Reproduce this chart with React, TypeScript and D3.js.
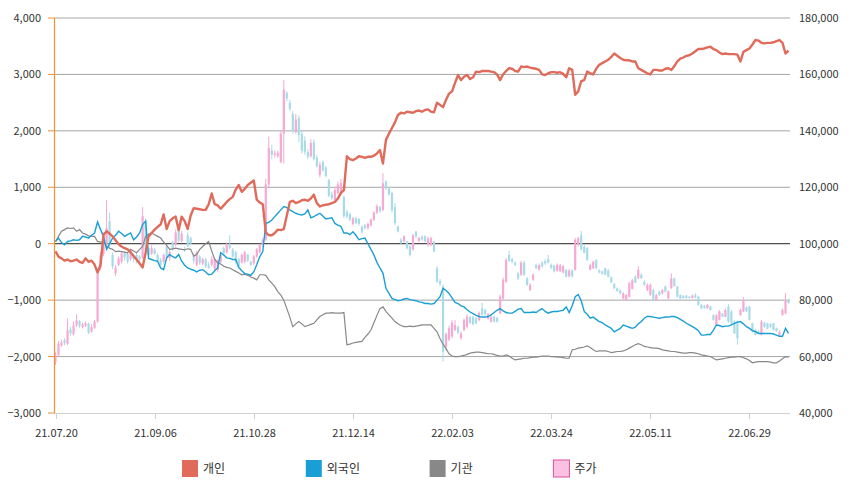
import React from 'react';
import * as d3 from 'd3';

// 순매수 누적 (left axis) and price candles (right axis), daily from 21.07.20
const tickLabels = ['21.07.20', '21.09.06', '21.10.28', '21.12.14', '22.02.03', '22.03.24', '22.05.11', '22.06.29'];
const TICK_EVERY = 33;

const leftTicks = [4000, 3000, 2000, 1000, 0, -1000, -2000, -3000];
const rightTicks = [180, 160, 140, 120, 100, 80, 60, 40];

const retail = [
  -135, -230, -260, -300, -280, -310, -300, -280, -320, -340,
  -260, -320, -300, -370, -510, -370, 160, 220, 180, 130,
  60, -10, -50, -80, -100, -150, -220, -280, -350, -420,
  -160, 130, 190, 250, 300, 340, 520, 260, 400, 450,
  480, 240, 480, 400, 260, 500, 630, 620, 610, 600,
  600, 700, 890, 700, 680, 620, 680, 740, 790, 830,
  960, 1040, 920, 970, 1040, 1080, 1120, 780, 730, 700,
  200, 150, 150, 190, 250, 240, 260, 500, 740, 760,
  720, 740, 770, 780, 760, 800, 870, 720, 660, 680,
  690, 700, 720, 740, 800, 900, 950, 1550, 1500, 1480,
  1510, 1550, 1540, 1520, 1540, 1540, 1560, 1600, 1660, 1420,
  1840, 1950, 2050, 2150, 2280, 2320, 2310, 2340, 2330, 2320,
  2350, 2360, 2340, 2370, 2380, 2340, 2330, 2500, 2460, 2420,
  2550, 2660, 2700, 2850, 2990, 2900, 2960, 2990, 2920, 2950,
  3050, 3040, 3060, 3060, 3060, 3050, 3040, 3000, 2900, 3000,
  3060, 3110, 3100, 3060, 3050, 3140, 3130, 3140, 3120, 3110,
  3100, 3080, 3000, 2990, 3020, 3040, 3040, 3030, 3040, 3010,
  2950, 3110, 3080, 2640, 2700, 2880, 2900, 3050, 3020, 3000,
  3100, 3170, 3200, 3230, 3260, 3310, 3370, 3330, 3290, 3260,
  3250, 3250, 3230, 3230, 3110, 3080, 3050, 3020, 3000, 3080,
  3080, 3070, 3070, 3100, 3110, 3080, 3150, 3230, 3280, 3300,
  3330, 3340, 3370, 3410, 3450, 3450, 3460, 3480, 3490, 3450,
  3430, 3390, 3360, 3370, 3360, 3360, 3360, 3350, 3230, 3400,
  3430, 3460, 3530, 3610, 3600, 3560, 3550, 3560, 3560, 3570,
  3590, 3610, 3560, 3370, 3420,
];

const foreign = [
  40, 100, 20, -20, 40, 50, 70, 60, 70, 130,
  120, 100, 150, 190, 385, 250, 130, -100, 0, 100,
  150, 220, 180, 130, 160, 190, 70, 120, 190, 340,
  400, -260, -280, -300, -310, -430, -460, -250, -190, -230,
  -250, -190, -310, -380, -430, -450, -470, -500, -470, -460,
  -500, -550, -540, -480, -430, -160, -200, -250, -260, -280,
  -280, -420, -480, -530, -540, -560, -500, -370, -230, -140,
  360, 380, 420, 480, 540, 600, 660, 640, 600, 570,
  540, 520, 510, 530, 600, 460, 480, 510, 540, 490,
  440, 450, 460, 360, 330, 310, 190, 190, 160, 210,
  150, 70, 90, 100, 0, -100, -200, -330, -430, -520,
  -790, -880, -970, -990, -1010, -1000, -980, -970, -990, -1000,
  -1010, -1030, -1040, -1060, -1060, -1070, -1060, -1000, -940, -790,
  -830, -880, -960, -1040, -1060, -1100, -1120, -1170, -1210, -1240,
  -1270, -1290, -1300, -1300, -1290, -1260, -1220, -1180, -1150, -1190,
  -1220, -1230, -1230, -1200, -1160, -1150, -1220, -1220, -1220, -1210,
  -1220, -1180, -1150, -1200, -1230, -1210, -1200, -1200, -1190, -1180,
  -1120, -1220, -1100, -940, -900, -1010, -1200, -1250, -1320, -1300,
  -1340, -1380, -1400, -1440, -1470, -1500, -1560, -1530, -1500, -1440,
  -1460, -1480, -1500, -1480, -1420, -1380, -1320, -1290, -1290, -1300,
  -1310, -1320, -1310, -1300, -1300, -1290, -1290, -1310, -1340, -1370,
  -1410, -1440, -1470, -1500, -1540, -1620, -1620, -1610, -1610, -1530,
  -1440, -1450, -1470, -1460, -1460, -1440, -1410, -1390, -1380, -1420,
  -1470, -1500, -1540, -1560, -1590, -1590, -1590, -1590, -1590, -1600,
  -1620, -1640, -1640, -1500, -1590,
];

const institution = [
  40, 130, 220, 250, 280, 270, 280, 220, 250, 190,
  170, 140, 130, 130, 40, 30, 40, -50, -80, -100,
  -140, -130, -140, -150, -160, -100, -130, -160, -100, -50,
  130, 170, 190, 160, 130, 100, 30, -30, -100, -90,
  -80, -90, -100, -110, -90, -100, -220, -190, -100, -50,
  0, 40, -130, -280, -340, -360, -400, -420, -430, -460,
  -490, -520, -550, -540, -560, -590, -610, -640, -550, -550,
  -560, -640, -700, -760, -850, -910, -1000, -1150, -1300, -1470,
  -1420, -1380, -1420, -1470, -1450, -1430, -1410, -1350, -1290, -1260,
  -1230, -1230, -1220, -1230, -1230, -1230, -1220, -1790, -1780, -1760,
  -1750, -1740, -1730, -1660, -1600, -1530, -1400, -1270, -1150, -1120,
  -1200, -1260, -1320, -1380, -1420, -1450, -1470, -1470, -1460, -1470,
  -1460, -1450, -1440, -1440, -1440, -1440, -1500, -1560, -1680, -1780,
  -1860, -1950, -1990, -2000, -2000, -1990, -1980, -1960, -1940, -1930,
  -1920, -1920, -1930, -1940, -1950, -1950, -1960, -1980, -1990, -1990,
  -1970, -1990, -2030, -2060, -2050, -2040, -2030, -2030, -2020, -2010,
  -2010, -2000, -1990, -1990, -1990, -2000, -2000, -2010, -2010, -2020,
  -2030, -2030, -1880, -1870, -1850, -1840, -1830, -1810, -1840, -1880,
  -1910, -1900, -1900, -1900, -1910, -1930, -1920, -1910, -1910, -1900,
  -1880, -1850, -1820, -1790, -1770, -1790, -1820, -1830, -1840, -1850,
  -1850, -1860, -1880, -1890, -1900, -1910, -1910, -1920, -1930, -1940,
  -1940, -1930, -1930, -1940, -1950, -1970, -1980, -1990, -2000, -2030,
  -2060, -2050, -2040, -2030, -2020, -2010, -2010, -2000, -2000, -2020,
  -2040, -2070, -2110, -2100, -2090, -2090, -2090, -2090, -2100, -2110,
  -2110, -2080, -2040, -2000, -2010,
];

// [open, close, high, low] in thousand won
const priceOHLC: [number, number, number, number][] = [
  [58.0, 60.5, 61.5, 57.0], [60.6, 64.5, 65.5, 60.0], [64.0, 65.0, 66.0, 63.5], [65.8, 64.8, 66.5, 64.0], [64.5, 69.3, 73.5, 64.0],
  [69.6, 68.2, 70.5, 67.5], [68.0, 71.0, 72.5, 67.5], [71.0, 72.8, 75.0, 70.5], [72.6, 71.0, 73.0, 70.2], [70.5, 71.4, 72.0, 70.0],
  [71.0, 71.8, 72.5, 70.5], [71.6, 68.5, 72.0, 68.0], [68.8, 70.4, 71.5, 68.5], [70.2, 72.4, 73.0, 69.8], [72.4, 89.5, 90.0, 72.0],
  [91.5, 96.0, 97.0, 90.5], [96.5, 100.5, 104.0, 95.5], [99.5, 105.5, 115.5, 99.0], [108.0, 99.3, 111.0, 98.5], [96.0, 92.0, 97.0, 91.0],
  [89.5, 91.5, 92.5, 88.5], [92.5, 94.8, 95.5, 92.0], [93.6, 96.5, 97.5, 93.0], [96.8, 95.2, 97.2, 94.0], [96.5, 93.6, 97.0, 93.0],
  [94.5, 97.0, 98.0, 94.0], [95.8, 94.5, 96.5, 93.5], [96.0, 94.2, 97.0, 93.0], [95.5, 94.5, 96.0, 93.5], [95.0, 109.8, 113.0, 94.5],
  [108.0, 97.5, 109.0, 96.5], [98.5, 96.0, 99.5, 95.5], [96.5, 98.4, 99.5, 96.0], [98.0, 96.5, 98.5, 96.0], [96.0, 94.0, 96.5, 93.5],
  [94.4, 92.5, 95.0, 92.0], [93.6, 96.0, 96.5, 93.0], [99.0, 95.0, 99.5, 94.5], [95.0, 97.0, 98.0, 94.0], [100.5, 98.0, 101.0, 97.5],
  [99.5, 104.0, 105.0, 99.0], [104.5, 101.0, 105.5, 100.5], [101.0, 103.5, 104.5, 100.5], [98.2, 98.0, 99.0, 97.0], [103.0, 99.3, 104.0, 98.8],
  [102.0, 100.0, 102.5, 99.5], [95.5, 94.0, 96.5, 93.0], [92.5, 97.0, 97.5, 92.0], [95.5, 93.2, 96.0, 92.5], [93.0, 94.5, 95.0, 92.5],
  [94.5, 92.0, 95.0, 91.5], [92.5, 91.5, 93.5, 91.0], [92.5, 94.5, 95.5, 92.0], [91.0, 94.5, 95.0, 90.5], [90.7, 94.0, 94.5, 90.0],
  [93.6, 96.0, 96.5, 93.0], [98.4, 96.6, 99.0, 96.0], [97.0, 99.6, 100.5, 96.5], [99.5, 98.5, 103.0, 98.0], [98.0, 95.5, 98.5, 95.0],
  [97.0, 93.6, 97.5, 93.0], [94.5, 92.0, 95.0, 91.5], [93.3, 96.0, 96.5, 93.0], [93.6, 97.0, 97.5, 93.0], [96.0, 94.0, 96.5, 93.5],
  [93.6, 92.5, 94.0, 92.0], [93.0, 95.5, 96.0, 92.5], [95.5, 98.0, 98.5, 95.0], [97.0, 99.6, 100.0, 96.5], [99.6, 101.4, 102.0, 99.0],
  [101.5, 121.0, 123.0, 101.0], [121.0, 134.0, 138.0, 120.0], [133.0, 131.5, 135.0, 130.0], [131.5, 132.0, 133.0, 130.5], [131.0, 132.2, 133.0, 130.5],
  [129.0, 139.0, 140.0, 128.5], [139.0, 154.5, 158.0, 128.5], [153.5, 151.5, 154.0, 150.5], [150.0, 147.8, 151.0, 147.0], [146.0, 140.0, 147.0, 139.0],
  [139.5, 144.0, 146.0, 139.0], [144.5, 138.5, 145.5, 136.0], [139.0, 133.0, 140.0, 132.0], [136.5, 132.6, 138.0, 131.5], [132.5, 130.8, 133.5, 130.0],
  [131.0, 135.7, 137.0, 130.5], [136.0, 130.0, 137.0, 129.5], [130.5, 127.5, 131.5, 127.0], [124.4, 128.0, 129.0, 123.5], [129.0, 126.0, 129.5, 125.5],
  [127.0, 124.0, 127.5, 123.5], [122.5, 117.0, 123.0, 116.5], [117.5, 116.2, 118.5, 115.5], [115.5, 119.0, 120.0, 115.0], [118.0, 121.0, 122.0, 117.5],
  [117.5, 121.5, 123.0, 117.0], [116.5, 109.8, 117.0, 109.0], [111.3, 109.6, 112.0, 109.0], [110.5, 108.5, 111.0, 108.0], [107.0, 109.0, 109.5, 106.5],
  [109.0, 107.3, 109.5, 107.0], [108.8, 107.0, 109.0, 106.5], [106.0, 104.3, 106.5, 103.5], [106.5, 105.5, 107.0, 105.0], [105.5, 107.0, 107.5, 105.0],
  [106.6, 108.5, 109.0, 106.0], [108.5, 111.0, 111.5, 108.0], [111.0, 113.3, 114.0, 110.5], [113.0, 111.5, 113.5, 111.0], [112.0, 121.4, 125.0, 111.5],
  [122.0, 119.6, 122.5, 119.0], [119.6, 117.5, 120.0, 117.0], [118.0, 112.0, 118.5, 111.0], [113.0, 107.3, 114.4, 106.5], [106.0, 104.3, 106.5, 104.0],
  [101.4, 100.2, 102.0, 99.8], [100.8, 102.6, 103.0, 100.5], [100.8, 98.4, 101.0, 98.0], [99.0, 96.0, 99.5, 95.5], [98.0, 103.0, 103.5, 97.5],
  [104.3, 102.6, 104.5, 102.0], [101.0, 102.0, 102.5, 100.5], [102.5, 101.5, 103.0, 101.0], [102.6, 100.8, 103.0, 100.5], [99.6, 101.8, 102.5, 99.0],
  [99.6, 102.0, 102.5, 99.0], [100.8, 97.2, 101.0, 97.0], [91.3, 86.6, 92.0, 86.0], [86.8, 85.8, 87.5, 85.0], [84.8, 61.7, 85.5, 58.2],
  [63.5, 68.0, 68.5, 62.0], [66.0, 70.0, 71.0, 65.5], [67.1, 72.0, 73.0, 66.5], [69.4, 71.2, 73.0, 69.0], [70.5, 68.5, 71.0, 68.0],
  [66.5, 68.2, 69.0, 66.0], [69.4, 73.0, 73.5, 69.0], [70.6, 74.1, 75.0, 70.0], [74.0, 72.0, 74.5, 71.5], [74.0, 71.5, 74.5, 71.0],
  [73.5, 71.8, 74.0, 71.5], [73.0, 75.5, 76.0, 72.5], [77.1, 74.8, 79.0, 74.5], [76.5, 75.0, 77.0, 74.5], [73.5, 75.0, 75.5, 73.0],
  [72.4, 74.0, 74.5, 72.0], [74.2, 72.4, 74.5, 72.0], [73.8, 72.4, 74.0, 72.0], [75.3, 81.2, 82.0, 75.0], [80.6, 87.2, 88.0, 80.0],
  [86.6, 94.2, 95.0, 86.0], [96.0, 94.0, 97.5, 93.5], [94.5, 93.6, 95.0, 93.0], [93.2, 92.5, 93.8, 92.0], [89.5, 87.7, 90.0, 87.2],
  [89.0, 93.3, 94.0, 88.5], [93.3, 89.0, 94.0, 88.5], [87.7, 85.4, 88.2, 85.0], [83.6, 85.4, 86.0, 83.2], [87.2, 89.0, 89.5, 86.8],
  [92.5, 91.3, 93.0, 91.0], [90.8, 92.4, 93.0, 90.5], [93.3, 92.0, 93.8, 91.5], [93.8, 93.0, 94.5, 92.5], [94.5, 93.3, 96.0, 93.0],
  [92.5, 91.5, 93.0, 91.0], [92.2, 90.2, 92.5, 89.8], [90.5, 92.5, 93.0, 90.0], [90.2, 92.3, 92.8, 90.0], [89.8, 92.0, 92.5, 89.5],
  [90.7, 88.3, 91.0, 88.0], [88.5, 90.5, 91.0, 88.0], [90.5, 88.5, 91.0, 88.0], [90.7, 101.4, 102.0, 90.5], [99.6, 102.0, 102.5, 99.0],
  [103.0, 98.0, 104.5, 97.5], [99.0, 96.8, 99.5, 96.5], [98.4, 94.2, 98.8, 94.0], [90.8, 92.4, 93.0, 90.5], [91.3, 93.6, 94.0, 91.0],
  [94.2, 91.3, 94.5, 91.0], [90.5, 89.8, 91.0, 89.5], [90.2, 89.4, 90.5, 89.0], [91.3, 89.0, 91.5, 88.8], [90.5, 88.3, 91.0, 88.0],
  [88.0, 86.3, 88.5, 86.0], [85.8, 84.2, 86.0, 84.0], [84.2, 83.2, 84.5, 83.0], [83.4, 82.4, 83.8, 82.0], [80.6, 82.4, 82.8, 80.2],
  [80.0, 81.8, 82.2, 79.8], [81.2, 86.0, 86.5, 81.0], [84.0, 87.0, 87.5, 83.8], [88.3, 86.2, 88.8, 86.0], [87.8, 90.7, 92.0, 87.5],
  [89.0, 87.8, 89.5, 87.5], [86.5, 85.4, 87.0, 85.0], [83.6, 85.4, 86.0, 83.2], [82.0, 85.4, 86.0, 81.5], [83.6, 80.0, 84.0, 79.8],
  [80.0, 81.8, 82.2, 79.8], [83.0, 81.8, 83.4, 81.5], [82.4, 83.6, 84.0, 82.0], [84.8, 83.0, 85.2, 82.8], [80.6, 83.0, 83.5, 80.2],
  [84.2, 87.7, 89.5, 84.0], [87.7, 85.0, 88.0, 84.8], [84.8, 81.2, 85.0, 81.0], [81.8, 80.6, 82.0, 80.4], [81.5, 80.8, 81.8, 80.5],
  [81.6, 80.8, 81.8, 80.5], [81.2, 80.8, 81.5, 80.5], [80.8, 81.6, 82.0, 80.5], [81.8, 81.0, 82.4, 80.6], [81.2, 78.3, 81.5, 78.0],
  [78.3, 77.0, 78.6, 76.8], [78.0, 77.3, 78.3, 77.0], [77.1, 78.3, 78.6, 77.0], [77.7, 76.5, 78.0, 76.3], [74.7, 73.0, 75.0, 72.8],
  [71.2, 74.7, 75.0, 71.0], [73.0, 76.0, 76.5, 72.8], [75.2, 74.2, 75.5, 74.0], [74.1, 76.5, 77.0, 74.0], [77.7, 72.4, 78.5, 72.0],
  [76.0, 71.8, 76.5, 71.5], [72.4, 68.2, 72.8, 68.0], [72.4, 66.5, 72.8, 64.2], [74.7, 76.5, 77.0, 74.5], [76.0, 80.0, 81.0, 75.8],
  [77.5, 76.0, 77.8, 75.8], [77.7, 73.0, 78.0, 72.8], [71.8, 68.8, 72.0, 68.5], [69.4, 67.7, 69.8, 67.5], [69.0, 68.2, 69.4, 68.0],
  [67.7, 72.4, 73.0, 67.5], [72.0, 70.5, 72.4, 70.2], [71.8, 70.0, 72.0, 69.8], [71.5, 70.5, 71.8, 70.2], [71.8, 69.4, 72.0, 69.2],
  [70.0, 69.0, 70.3, 68.8], [67.7, 68.8, 69.2, 67.5], [74.7, 76.5, 77.0, 74.5], [75.3, 80.0, 82.5, 75.0], [80.0, 79.0, 80.5, 78.7],
];

const seriesNames = ['개인', '외국인', '기관', '주가'];
const colors = { retail: '#e06b5b', foreign: '#1a9fd4', institution: '#888888', up: '#f6a9d2', down: '#a8dbe8' };

const W = 858;
const H = 494;
const left = 54, right = 790, top = 18, bottom = 413;
const FONT = '"Noto Sans CJK KR", "Noto Sans", sans-serif';

export default function App() {
  const n = retail.length;
  const x = d3.scaleBand<number>().domain(d3.range(n)).range([left, right]);
  const cx = (i: number) => (x(i) as number) + x.bandwidth() / 2;
  const y = d3.scaleLinear().domain([-3000, 4000]).range([bottom, top]);
  const y2 = d3.scaleLinear().domain([40, 180]).range([bottom, top]);

  const line = (vals: number[]) =>
    d3.line<number>().x((_, i) => cx(i)).y((v) => y(v))(vals) as string;

  const fmt = d3.format(',');
  const bw = 2.2;

  return (
    <svg width={W} height={H} style={{ position: 'absolute', left: 0, top: 0, background: '#fff' }} fontFamily={FONT}>
      {/* grid */}
      {leftTicks.filter((t) => t !== -3000).map((t) => (
        <line key={t} x1={left} x2={right} y1={y(t)} y2={y(t)} stroke={t === 0 ? '#222' : '#a6a6a6'} strokeWidth={1} />
      ))}
      {/* x axis */}
      <line x1={left} x2={right} y1={bottom + 0.5} y2={bottom + 0.5} stroke="#d0d0d0" />
      {tickLabels.map((lab, k) => {
        const xx = Math.round(cx(k * TICK_EVERY)) + 0.5;
        return (
          <g key={lab}>
            <line x1={xx} x2={xx} y1={bottom} y2={bottom + 6} stroke="#d0d0d0" />
            <text x={xx} y={437} textAnchor="middle" fontSize={11} fill="#333">{lab}</text>
          </g>
        );
      })}
      {/* candles */}
      {priceOHLC.map(([o, c, h, l], i) => {
        const col = c >= o ? colors.up : colors.down;
        const xc = cx(i);
        const yt = y2(Math.max(o, c));
        const yb = y2(Math.min(o, c));
        return (
          <g key={i}>
            <line x1={xc} x2={xc} y1={y2(h)} y2={y2(l)} stroke={col} strokeWidth={1} />
            <rect x={xc - bw / 2} y={yt} width={bw} height={Math.max(1, yb - yt)} fill={col} />
          </g>
        );
      })}
      {/* lines */}
      <path d={line(institution)} fill="none" stroke={colors.institution} strokeWidth={1.2} />
      <path d={line(foreign)} fill="none" stroke={colors.foreign} strokeWidth={1.4} />
      <path d={line(retail)} fill="none" stroke={colors.retail} strokeWidth={2.4} strokeLinejoin="round" />
      {/* left axis */}
      <line x1={left + 0.5} x2={left + 0.5} y1={top} y2={bottom} stroke="#f0922e" strokeWidth={1.2} />
      {leftTicks.map((t) => (
        <g key={t}>
          <line x1={left - 6} x2={left} y1={y(t)} y2={y(t)} stroke="#f0922e" />
          <text x={41} y={y(t) + 4} textAnchor="end" fontSize={11} fill="#333">{fmt(t)}</text>
        </g>
      ))}
      {/* right axis labels */}
      {rightTicks.map((t) => (
        <text key={t} x={799} y={y2(t) + 4} textAnchor="start" fontSize={11} fill="#333">{fmt(t * 1000)}</text>
      ))}
      {/* legend */}
      {seriesNames.map((name, k) => {
        const lx = 182 + k * 123.8;
        const fill = [colors.retail, colors.foreign, colors.institution, '#fcc0e2'][k];
        return (
          <g key={name}>
            <rect x={lx} y={460} width={16} height={17} fill={fill} stroke={k === 3 ? '#d9509a' : 'none'} strokeWidth={1} />
            <text x={lx + 21} y={473} fontSize={12} fill="#333">{name}</text>
          </g>
        );
      })}
    </svg>
  );
}
